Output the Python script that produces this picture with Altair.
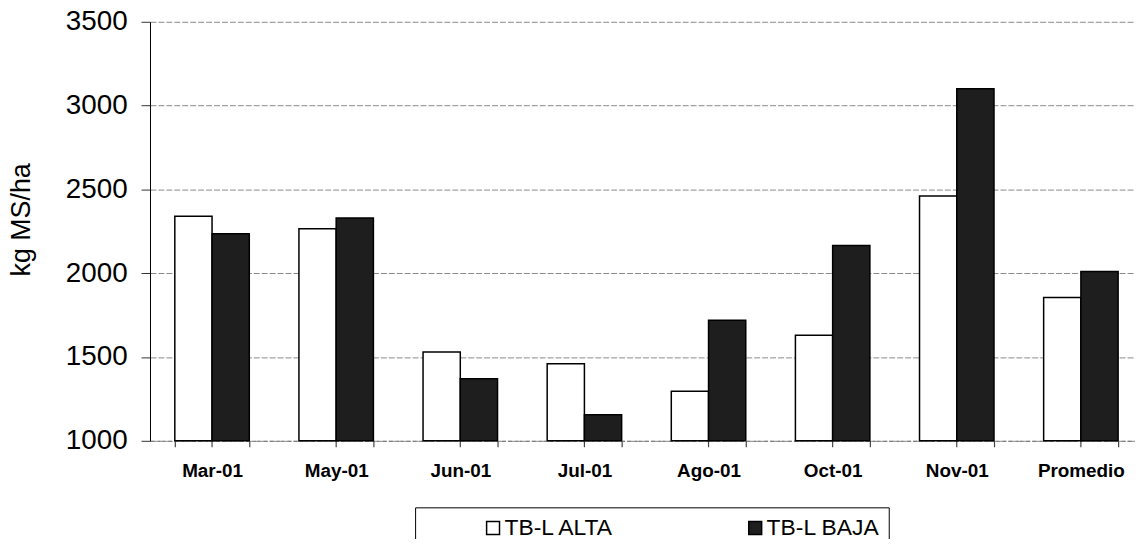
import altair as alt
import pandas as pd

categories = ["Mar-01", "May-01", "Jun-01", "Jul-01", "Ago-01", "Oct-01", "Nov-01", "Promedio"]
series = ["TB-L ALTA", "TB-L BAJA"]
alta = [2340, 2265, 1530, 1460, 1295, 1630, 2460, 1855]
baja = [2235, 2330, 1370, 1155, 1720, 2165, 3100, 2010]
y_ticks = [1000, 1500, 2000, 2500, 3000, 3500]

rows = []
for c, a, b in zip(categories, alta, baja):
    rows.append({"cat": c, "serie": series[0], "val": a})
    rows.append({"cat": c, "serie": series[1], "val": b})
df = pd.DataFrame(rows)

FONT = "Liberation Sans"

x_scale = alt.Scale(range=[0, 1000], paddingInner=0.4, paddingOuter=0.2)
y_scale = alt.Scale(domain=[1000, 3500], zero=False, nice=False)

bars = alt.Chart(df).mark_bar(stroke="black", strokeWidth=1.5).encode(
    x=alt.X(
        "cat:N",
        sort=categories,
        scale=x_scale,
        axis=alt.Axis(
            title=None, orient="bottom", labelAngle=0, labelFont=FONT, labelFontWeight="bold",
            labelFontSize=19, labelColor="black", tickBand="extent", ticks=True,
            tickSize=6, tickColor="#444444", tickWidth=1.2, domainColor="#777777",
            domainDash=[4, 2], labelPadding=15, grid=False,
        ),
    ),
    xOffset=alt.XOffset("serie:N", sort=series, scale=alt.Scale(paddingInner=0, paddingOuter=0)),
    y=alt.Y(
        "val:Q",
        scale=y_scale,
        axis=alt.Axis(
            values=y_ticks, format="d", title="kg MS/ha", labelFont=FONT, labelFontSize=28,
            labelColor="black", labelPadding=14, tickSize=9, tickColor="#333333",
            domainColor="black", gridColor="#8a8a8a", gridDash=[6, 2], gridWidth=1,
            titleFont=FONT, titleFontSize=27, titleFontWeight="normal", titleColor="black",
            titleX=-129, titleY=199, titleAngle=270, titleBaseline="middle", titleAlign="center",
        ),
    ),
    y2=alt.datum(1000),
    fill=alt.Fill(
        "serie:N",
        sort=series,
        scale=alt.Scale(domain=series, range=["white", "#1e1e1e"]),
        legend=alt.Legend(
            title=None, orient="none", legendX=267, legendY=489, direction="horizontal",
            strokeColor="black", padding=9, labelFont=FONT, labelFontSize=23,
            labelColor="black", symbolType="square", symbolSize=169,
            symbolStrokeColor="black", symbolStrokeWidth=1.5, labelOffset=0,
            symbolOffset=58, columnPadding=72, fillColor="white",
        ),
    ),
)

center_ticks = alt.Chart(df).mark_point(opacity=0).encode(
    x=alt.X(
        "cat:N",
        sort=categories,
        scale=x_scale,
        axis=alt.Axis(
            title=None, orient="bottom", labels=False, domain=False, ticks=True,
            tickBand="center", tickSize=6, tickColor="#444444", tickWidth=1.2, grid=False,
        ),
    ),
)

chart = alt.layer(bars, center_ticks).resolve_axis(x="independent").properties(
    width=992,
    height=422,
    autosize=alt.AutoSizeParams(type="none"),
    padding={"left": 143, "top": 12, "right": 0, "bottom": 97},
).configure_view(strokeWidth=0)

chart.save("out.html", embed_options={"renderer": "svg", "actions": False})
